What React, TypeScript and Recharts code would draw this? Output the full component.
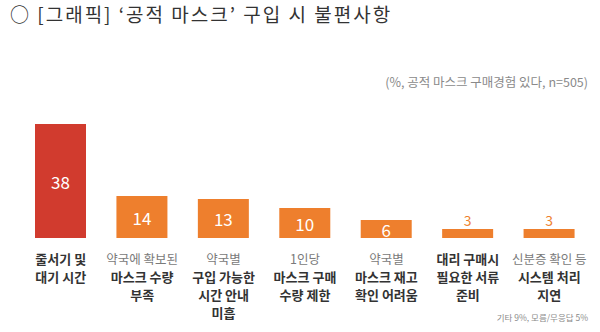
import { BarChart, Bar, XAxis, YAxis, Cell, LabelList } from 'recharts';

const categories = ['줄서기 및 대기 시간', '약국에 확보된 마스크 수량 부족', '약국별 구입 가능한 시간 안내 미흡', '1인당 마스크 구매 수량 제한', '약국별 마스크 재고 확인 어려움', '대리 구매시 필요한 서류 준비', '신분증 확인 등 시스템 처리 지연'];
const values = [38, 14, 13, 10, 6, 3, 3];
// first line in light gray ('' = none), then the bold lines
const labelLight = ['', '약국에 확보된', '약국별', '1인당', '약국별', '', '신분증 확인 등'];
const labelBold = [
    ['줄서기 및', '대기 시간'],
    ['마스크 수량', '부족'],
    ['구입 가능한', '시간 안내', '미흡'],
    ['마스크 구매', '수량 제한'],
    ['마스크 재고', '확인 어려움'],
    ['대리 구매시', '필요한 서류', '준비'],
    ['시스템 처리', '지연'],
];

const RED = '#d13b2e';
const ORANGE = '#ee7f2d';
const FONT = '"Noto Sans CJK KR", "Noto Sans", sans-serif';

const data = categories.map((name, i) => ({ name, value: values[i], idx: i }));

const CategoryTick = (props: any) => {
    const { x, y, payload } = props;
    const i = payload.index;
    const lines: { text: string; light: boolean }[] = [];
    if (labelLight[i]) lines.push({ text: labelLight[i], light: true });
    labelBold[i].forEach((t) => lines.push({ text: t, light: false }));
    return (
        <g>
            {lines.map((l, k) => (
                <text
                    key={k}
                    x={x}
                    y={y + 12 + k * 18}
                    textAnchor="middle"
                    dominantBaseline="central"
                    fontFamily={FONT}
                    fontSize={l.light ? 12.5 : 13}
                    fontWeight={l.light ? 400 : 700}
                    fill={l.light ? '#7a7a7a' : '#333'}
                >
                    {l.text}
                </text>
            ))}
        </g>
    );
};

const ValueLabel = (props: any) => {
    const { x, y, width, height, value } = props;
    if (value >= 6) {
        return (
            <text x={x + width / 2} y={y + height / 2} textAnchor="middle" dominantBaseline="central"
                fontFamily={FONT} fontSize={17} fill="#fff">
                {value}
            </text>
        );
    }
    return (
        <text x={x + width / 2} y={y - 9} textAnchor="middle" dominantBaseline="central"
            fontFamily={FONT} fontSize={14} fill={ORANGE}>
            {value}
        </text>
    );
};

export default function App() {
    return (
        <div style={{ position: 'absolute', left: 0, top: 0, width: 600, height: 332, background: '#fff', fontFamily: FONT }}>
            <div style={{ position: 'absolute', left: 10, top: 0, fontSize: 19, color: '#333', letterSpacing: 2, whiteSpace: 'nowrap' }}>
                ○ [그래픽] ‘공적 마스크’ 구입 시 불편사항
            </div>
            <div style={{ position: 'absolute', right: 12, top: 72, fontSize: 12.5, color: '#8a8a8a', whiteSpace: 'nowrap' }}>
                (%, 공적 마스크 구매경험 있다, n=505)
            </div>
            <div style={{ position: 'absolute', right: 12, top: 311, fontSize: 8.5, color: '#8a8a8a', whiteSpace: 'nowrap' }}>
                기타 9%, 모름/무응답 5%
            </div>
            <BarChart width={600} height={332} data={data} margin={{ top: 124, right: 10, left: 20, bottom: 0 }} barCategoryGap={15}>
                <XAxis dataKey="name" height={94} axisLine={false} tickLine={false} interval={0} tick={<CategoryTick />} />
                <YAxis hide domain={[0, 38]} />
                <Bar dataKey="value" isAnimationActive={false}>
                    {data.map((d) => (
                        <Cell key={d.idx} fill={d.idx === 0 ? RED : ORANGE} />
                    ))}
                    <LabelList dataKey="value" content={<ValueLabel />} />
                </Bar>
            </BarChart>
        </div>
    );
}
